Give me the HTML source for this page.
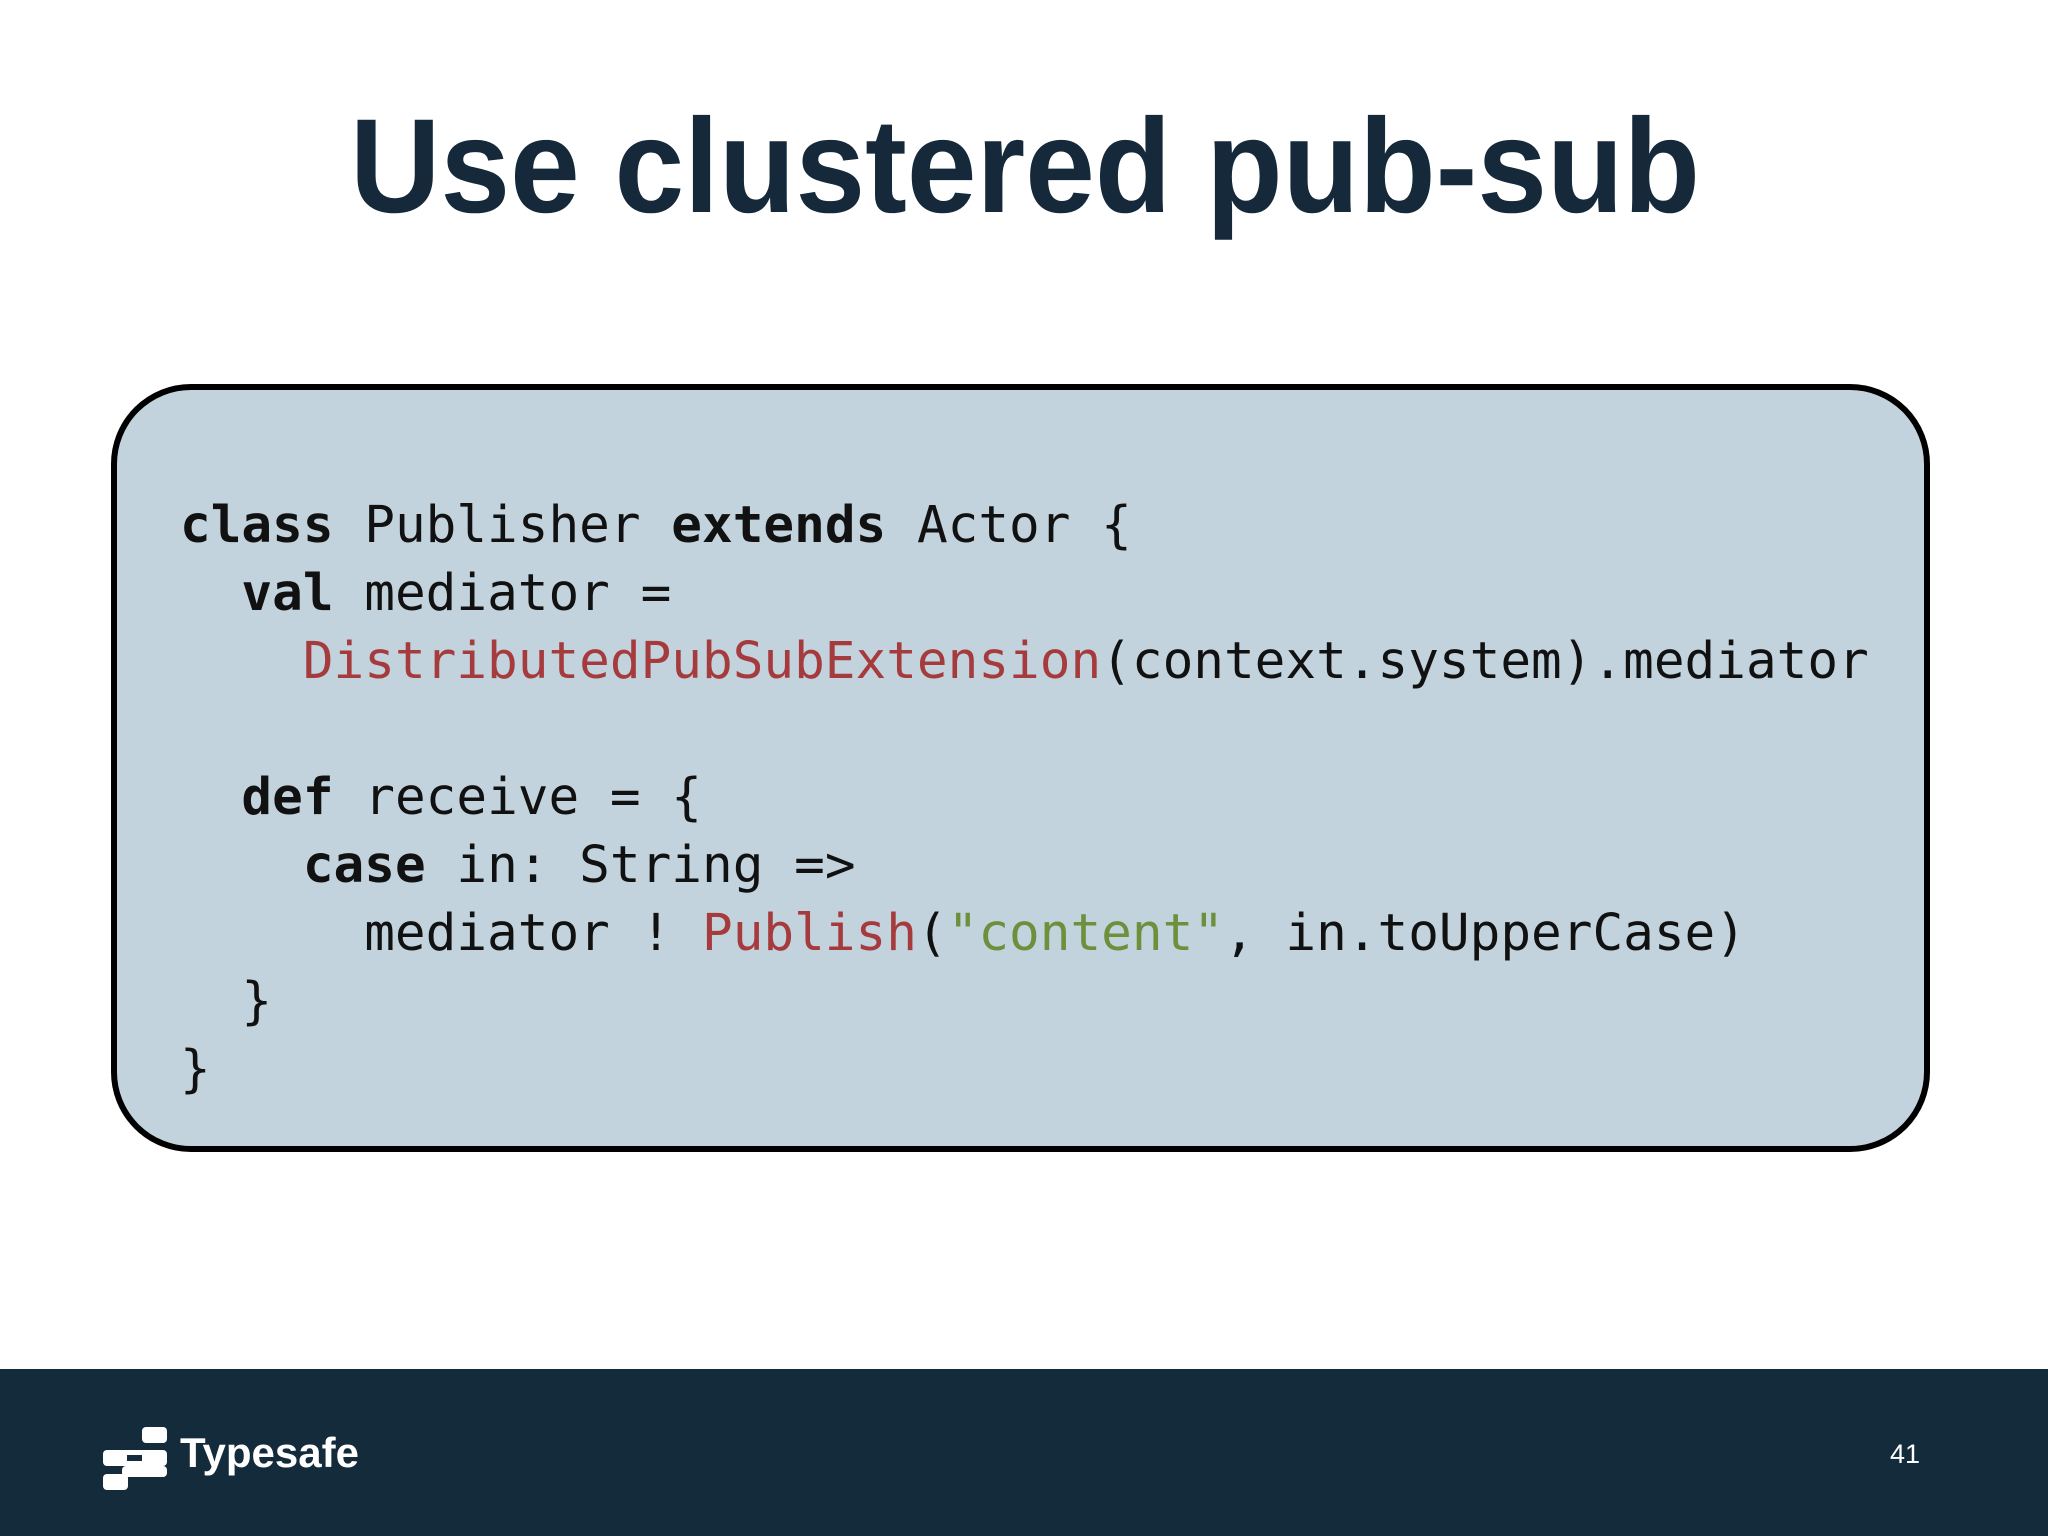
<!DOCTYPE html>
<html><head><meta charset="utf-8"><style>
html,body{margin:0;padding:0;width:2048px;height:1536px;overflow:hidden;background:#fff;}
.box{position:absolute;left:111px;top:384px;width:1807px;height:756px;background:#c2d3dd;border:6px solid #000;border-radius:80px;}
.code{position:absolute;left:180px;top:0;font-family:"DejaVu Sans Mono","Liberation Mono",monospace;font-size:51px;color:#111;white-space:pre;}
.ln{position:absolute;left:0;white-space:pre;line-height:1;}
b{font-weight:bold;}
.r{color:#a63b3d;}
.g{color:#6e8f3c;}
.foot{position:absolute;left:0;top:1369px;width:2048px;height:167px;background:#132b3b;}
.blk{position:absolute;background:#fff;border-radius:4px;}
</style></head><body>
<svg width="2048" height="260" style="position:absolute;left:0;top:0">
<text x="350" y="212" textLength="1350" lengthAdjust="spacingAndGlyphs" font-family="Liberation Sans, sans-serif" font-weight="bold" font-size="134" fill="#15293a">Use clustered pub-sub</text>
</svg>
<div class="box"></div>
<div class="code">
<div class="ln" style="top:500px"><b>class</b> Publisher <b>extends</b> Actor {</div>
<div class="ln" style="top:568px">  <b>val</b> mediator =</div>
<div class="ln" style="top:636px">    <span class="r">DistributedPubSubExtension</span>(context.system).mediator</div>
<div class="ln" style="top:772px">  <b>def</b> receive = {</div>
<div class="ln" style="top:840px">    <b>case</b> in: String =&gt;</div>
<div class="ln" style="top:908px">      mediator ! <span class="r">Publish</span>(<span class="g">"content"</span>, in.toUpperCase)</div>
<div class="ln" style="top:976px">  }</div>
<div class="ln" style="top:1044px">}</div>
</div>
<div class="foot">
<div class="blk" style="left:142px;top:58px;width:25px;height:16px"></div>
<div class="blk" style="left:103px;top:81px;width:64px;height:16px"></div>
<div class="blk" style="left:127px;top:86px;width:15px;height:6px;background:#132b3b;border-radius:0"></div>
<div class="blk" style="left:122px;top:97px;width:45px;height:11px"></div>
<div class="blk" style="left:103px;top:105px;width:25px;height:16px"></div>
<div style="position:absolute;left:180px;top:60px;font-family:'Liberation Sans',sans-serif;font-weight:bold;font-size:42px;color:#fff;">Typesafe</div>
<div style="position:absolute;left:1890px;top:70px;font-family:'Liberation Sans',sans-serif;font-size:27px;color:#fff;">41</div>
</div>
</body></html>
